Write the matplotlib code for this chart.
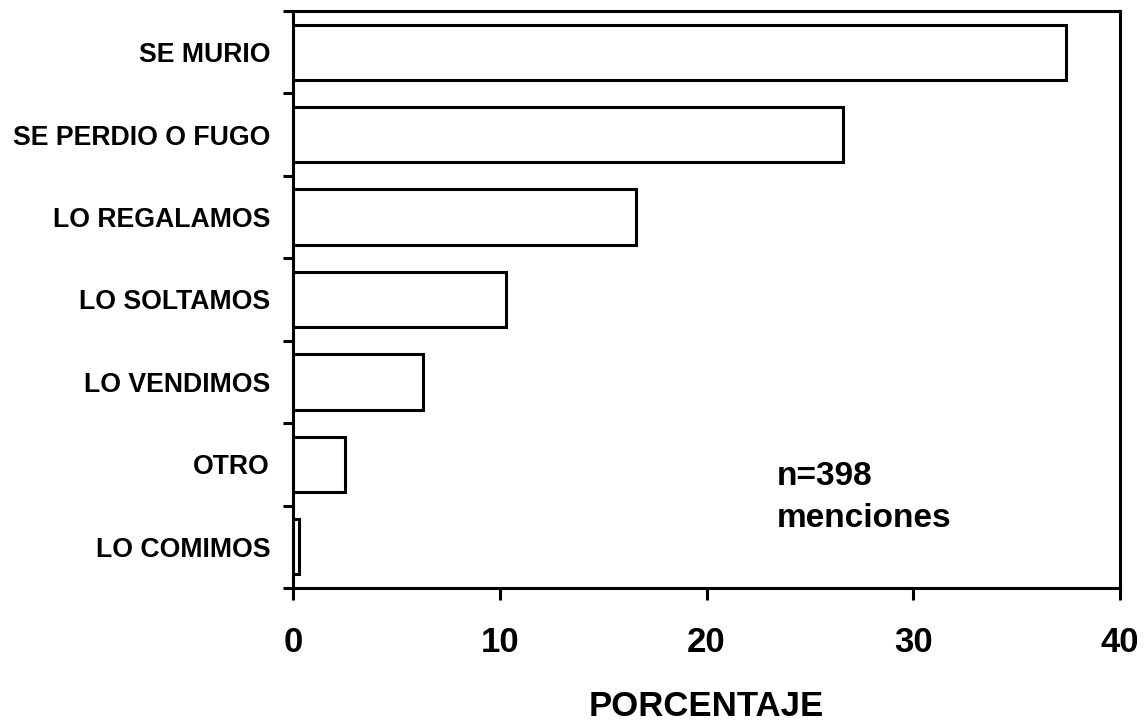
import matplotlib
matplotlib.use("Agg")
import matplotlib.pyplot as plt
import numpy as np

categories = ["SE MURIO", "SE PERDIO O FUGO", "LO REGALAMOS", "LO SOLTAMOS",
              "LO VENDIMOS", "OTRO", "LO COMIMOS"]
values = [37.4, 26.6, 16.6, 10.3, 6.3, 2.5, 0.3]
xticks = [0, 10, 20, 30, 40]
note = "n=398\nmenciones"
xlabel = "PORCENTAJE"

plt.rcParams['font.family'] = ['Liberation Sans', 'DejaVu Sans']
plt.rcParams['font.weight'] = 'bold'

fig = plt.figure(figsize=(11.46, 7.25), dpi=100)
ax = fig.add_axes([0.2557, 0.189, 0.9773 - 0.2557, 0.9848 - 0.189])

y = np.arange(len(categories))
ax.barh(y, values, height=0.67, color='white', edgecolor='black', linewidth=2.2)
ax.set_ylim(len(categories) - 0.5, -0.5)
ax.set_xlim(0, 40)

ax.set_yticks(y)
ax.set_yticklabels(categories, fontsize=19.2, fontweight='bold')
ax.set_yticks(np.arange(len(categories) + 1) - 0.5, minor=True)
ax.tick_params(axis='y', which='major', length=0, pad=16.5)
ax.tick_params(axis='y', which='minor', length=7.2, width=2.2, direction='out')

ax.set_xticks(xticks)
ax.set_xticklabels([str(t) for t in xticks], fontsize=25, fontweight='bold')
ax.tick_params(axis='x', which='major', length=8.6, width=2.2, direction='out', pad=19)

for s in ax.spines.values():
    s.set_linewidth(2.2)

ax.set_xlabel(xlabel, fontsize=25, fontweight='bold', labelpad=22)

ax.text(0.585, 0.220, note, transform=ax.transAxes, fontsize=24,
        fontweight='bold', ha='left', va='top', linespacing=1.45)

fig.savefig("out.png", dpi=100)
